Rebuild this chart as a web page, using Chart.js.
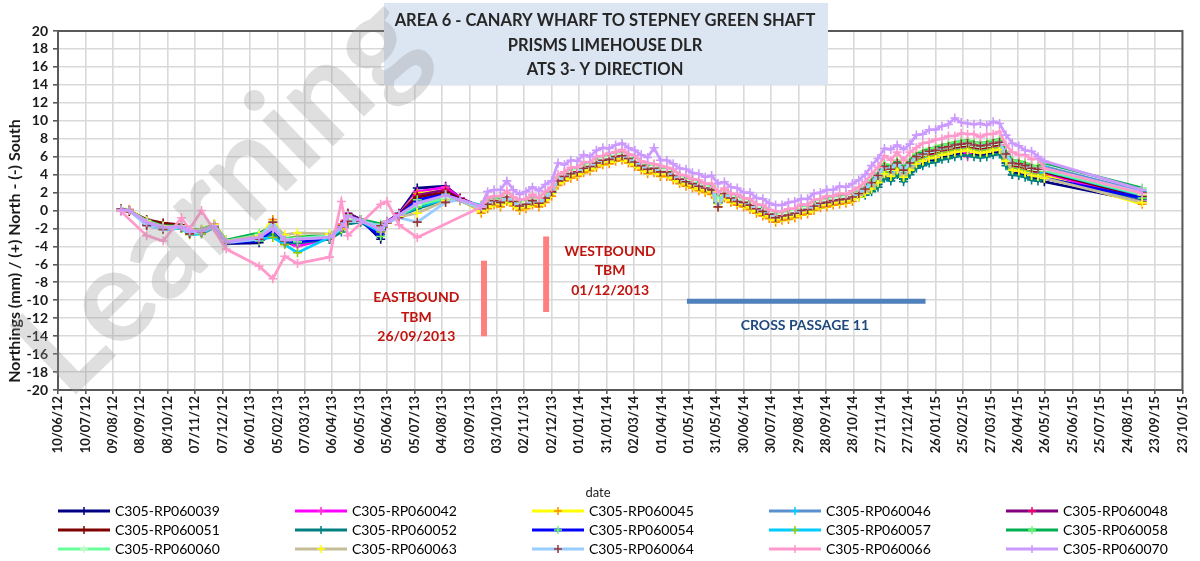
<!DOCTYPE html>
<html>
<head>
<meta charset="utf-8">
<script src="https://cdn.jsdelivr.net/npm/chart.js@4.4.1/dist/chart.umd.min.js"></script>
<style>
html, body { margin: 0; padding: 0; background: #fff; }
#wrap { width: 1200px; height: 561px; }
</style>
</head>
<body>
<div id="wrap"><canvas id="chart" width="1200" height="561"></canvas></div>
<script>
// tick labels on the date axis (every 30 days)
var tickLabels = ['10/06/12','10/07/12','09/08/12','08/09/12','08/10/12','07/11/12','07/12/12','06/01/13','05/02/13','07/03/13',
  '06/04/13','06/05/13','05/06/13','05/07/13','04/08/13','03/09/13','03/10/13','02/11/13','02/12/13','01/01/14',
  '31/01/14','02/03/14','01/04/14','01/05/14','31/05/14','30/06/14','30/07/14','29/08/14','28/09/14','28/10/14',
  '27/11/14','27/12/14','26/01/15','25/02/15','27/03/15','26/04/15','26/05/15','25/06/15','25/07/15','24/08/15',
  '23/09/15','23/10/15'];

// reading dates: early manual readings, weekly readings, last reading
var earlyDates = ['18/08/12','27/08/12','15/09/12','03/10/12','23/10/12','01/11/12','14/11/12','28/11/12','11/12/12','16/01/13',
  '31/01/13','13/02/13','27/02/13','03/04/13','16/04/13','23/04/13','07/05/13','29/05/13','05/06/13','18/06/13',
  '08/07/13','08/08/13','24/08/13'];
var weeklyDates = ['16/09/13','23/09/13','30/09/13','07/10/13','14/10/13','21/10/13','28/10/13','04/11/13','11/11/13','18/11/13',
  '25/11/13','02/12/13','09/12/13','16/12/13','23/12/13','30/12/13','06/01/14','13/01/14','20/01/14','27/01/14',
  '03/02/14','10/02/14','17/02/14','24/02/14','03/03/14','10/03/14','17/03/14','24/03/14','31/03/14','07/04/14',
  '14/04/14','21/04/14','28/04/14','05/05/14','12/05/14','19/05/14','26/05/14','02/06/14','09/06/14','16/06/14',
  '23/06/14','30/06/14','07/07/14','14/07/14','21/07/14','28/07/14','04/08/14','11/08/14','18/08/14','25/08/14',
  '01/09/14','08/09/14','15/09/14','22/09/14','29/09/14','06/10/14','13/10/14','20/10/14','27/10/14','03/11/14',
  '10/11/14','17/11/14','24/11/14','01/12/14','08/12/14','15/12/14','22/12/14','29/12/14','05/01/15','12/01/15',
  '19/01/15','26/01/15','02/02/15','09/02/15','16/02/15','23/02/15','02/03/15','09/03/15','16/03/15','23/03/15',
  '30/03/15','06/04/15','13/04/15','20/04/15','27/04/15','04/05/15','11/05/15','18/05/15','25/05/15'];
var lastDates = ['09/09/15'];

var seriesNames = ['C305-RP060039','C305-RP060042','C305-RP060045','C305-RP060046','C305-RP060048',
  'C305-RP060051','C305-RP060052','C305-RP060054','C305-RP060057','C305-RP060058',
  'C305-RP060060','C305-RP060063','C305-RP060064','C305-RP060066','C305-RP060070'];

// northings (mm), one value per reading date
var rp060039 = [0.1,0.0,-1.5,-2.0,-1.9,-2.5,-2.4,-1.8,-3.7,-3.6,-2.5,-3.7,-3.6,-3.2,-1.8,-0.3,-1.0,-3.2,-1.3,-0.3,2.5,2.7,1.4,
  0.3,0.8,1.2,1.0,1.5,1.1,0.6,0.8,1.2,1.0,1.5,2.0,3.4,3.9,4.2,4.4,4.8,5.0,5.4,5.7,
  5.8,6.1,6.2,5.8,5.5,5.1,4.7,4.8,4.4,4.4,4.0,3.6,3.3,3.1,2.8,2.6,2.4,1.0,2.0,1.5,
  1.2,1.0,0.7,0.3,0.0,-0.3,-0.7,-0.5,-0.4,-0.2,0.1,0.2,0.6,0.9,1.0,1.2,1.3,1.4,1.6,
  1.7,2.0,2.4,2.9,3.9,3.6,4.3,3.5,4.3,5.0,5.3,5.6,5.7,6.0,6.1,6.3,6.4,6.5,6.3,6.2,6.3,6.5,6.6,
  5.3,4.0,4.2,4.0,3.7,3.6,3.2,
  1.0];
var rp060042 = [0.1,0.1,-1.2,-1.8,-1.8,-2.3,-2.2,-1.7,-3.5,-3.3,-2.2,-3.5,-4.0,-3.1,-1.5,-0.3,-1.1,-2.5,-1.2,-0.4,2.1,2.6,1.4,
  0.4,0.9,1.3,1.1,1.7,1.2,0.7,0.9,1.3,1.1,1.6,2.3,3.5,4.0,4.3,4.5,4.9,5.1,5.5,5.8,
  5.9,6.2,6.3,6.0,5.6,5.2,4.8,4.9,4.5,4.5,4.1,3.7,3.4,3.2,2.9,2.7,2.5,1.1,2.1,1.6,
  1.3,1.1,0.8,0.4,0.1,-0.2,-0.6,-0.4,-0.3,-0.1,0.2,0.3,0.7,1.0,1.1,1.3,1.4,1.5,1.7,
  2.0,2.3,2.8,3.5,4.5,4.2,4.9,4.1,4.9,5.6,5.9,6.2,6.3,6.6,6.7,6.9,7.0,6.0,6.9,6.8,6.9,7.1,7.2,
  5.9,4.9,4.8,4.6,4.3,4.2,4.1,
  1.2];
var rp060045 = [0.2,0.1,-1.1,-1.7,-1.6,-2.2,-2.1,-1.5,-3.3,-3.0,-1.0,-3.2,-2.9,-2.9,-1.6,-0.6,-1.2,-2.0,-1.4,-0.5,1.9,2.2,1.3,
  -0.3,0.2,0.6,0.4,1.0,0.5,0.0,0.2,0.6,0.4,0.9,1.6,2.8,3.3,3.6,3.8,4.2,4.4,4.8,5.1,
  5.2,5.5,5.6,5.3,4.9,4.5,4.1,4.2,3.8,3.8,3.4,3.0,2.7,2.5,2.2,2.0,1.8,0.4,1.4,0.9,
  0.6,0.4,0.1,-0.3,-0.6,-0.9,-1.3,-1.1,-1.0,-0.8,-0.5,-0.4,0.0,0.3,0.4,0.6,0.7,0.8,1.0,
  1.7,2.3,3.2,4.1,5.1,4.8,5.5,4.7,5.5,6.2,6.5,6.8,6.9,7.2,7.3,7.5,7.6,7.7,7.5,7.4,7.5,7.7,7.8,
  6.5,5.5,5.4,5.2,4.9,4.8,3.9,
  0.7];
var rp060046 = [0.1,0.0,-1.3,-2.0,-1.9,-2.4,-2.4,-1.8,-3.6,-3.2,-2.2,-3.5,-3.4,-3.0,-1.9,-0.6,-1.1,-2.3,-1.4,-0.6,1.0,1.6,1.2,
  0.3,0.8,1.2,1.1,1.6,1.1,0.6,0.8,1.2,1.0,1.5,2.2,3.4,3.9,4.2,4.5,4.8,5.0,5.4,5.7,
  5.8,6.1,6.2,5.9,5.5,5.1,4.7,4.8,4.4,4.4,4.1,3.6,3.3,3.1,2.8,2.6,2.4,1.0,2.0,1.5,
  1.2,1.0,0.7,0.3,0.0,-0.3,-0.7,-0.4,-0.4,-0.2,0.1,0.2,0.6,0.9,1.0,1.2,1.3,1.4,1.6,
  1.9,2.4,3.0,3.8,4.8,4.5,5.2,4.4,5.2,5.9,6.2,6.5,6.6,6.9,7.0,7.2,7.3,7.4,7.2,7.1,7.2,7.4,7.5,
  6.2,5.2,5.1,4.9,4.6,4.5,4.9,
  2.1];
var rp060048 = [0.1,0.0,-1.2,-1.8,-1.8,-2.3,-2.3,-1.7,-3.5,-3.1,-2.0,-3.4,-3.3,-3.0,-1.7,-0.4,-1.0,-2.3,-1.3,-0.4,1.7,2.3,1.3,
  0.4,0.9,1.3,1.1,1.7,1.2,0.7,0.9,1.4,1.1,1.6,2.3,3.5,4.0,4.3,4.5,4.9,5.1,5.5,5.8,
  5.9,6.2,6.4,6.0,5.6,5.2,4.8,4.9,4.5,4.5,4.1,3.7,3.4,3.2,2.9,2.7,2.5,1.1,2.1,1.6,
  1.3,1.1,0.8,0.4,0.1,-0.2,-0.6,-0.4,-0.3,-0.1,0.2,0.3,0.7,1.0,1.1,1.3,1.4,1.5,1.7,
  2.0,2.4,2.9,3.6,4.6,4.3,5.0,4.2,5.0,5.7,6.0,6.3,6.4,6.7,6.8,7.0,7.1,7.2,7.0,6.9,7.0,7.2,7.3,
  6.0,5.0,4.9,4.7,4.4,4.3,4.3,
  1.6];
var rp060051 = [0.0,-0.1,-1.0,-1.4,-1.6,-2.2,-2.2,-1.6,-3.5,-3.0,-1.8,-3.3,-3.1,-2.9,-1.7,-0.4,-1.1,-2.2,-1.3,-0.5,1.5,2.0,1.3,
  0.2,0.7,1.1,0.9,1.5,1.0,0.5,0.7,1.1,0.9,1.4,2.1,3.3,3.8,4.1,4.3,4.7,4.9,5.3,5.6,
  5.7,6.0,6.1,5.8,5.4,5.0,4.6,4.7,4.3,4.3,3.9,3.5,3.2,3.0,2.7,2.5,2.3,0.9,1.9,1.4,
  1.1,0.9,0.6,0.2,-0.1,-0.4,-0.8,-0.6,-0.5,-0.3,0.0,0.1,0.5,0.8,0.9,1.1,1.2,1.3,1.5,
  1.9,2.3,2.9,3.7,4.7,4.4,5.1,4.3,5.1,5.8,6.1,6.4,6.5,6.8,6.9,7.1,7.2,7.3,7.1,7.0,7.1,7.3,7.4,
  6.1,5.1,5.0,4.8,4.5,4.4,4.3,
  1.5];
var rp060052 = [0.1,0.0,-1.4,-2.1,-2.0,-2.5,-2.6,-1.9,-3.5,-3.3,-2.6,-3.6,-3.6,-3.2,-2.4,-1.5,-1.3,-2.7,-1.3,-0.6,0.2,1.2,1.1,
  0.1,0.6,1.0,0.8,1.4,0.9,0.4,0.6,1.0,0.8,1.3,2.0,3.2,3.7,4.0,4.2,4.6,4.8,5.2,5.5,
  5.6,5.9,6.0,5.7,5.3,4.9,4.5,4.6,4.2,4.2,3.8,3.4,3.1,2.9,2.6,2.4,2.2,0.8,1.8,1.3,
  1.0,0.8,0.5,0.1,-0.2,-0.5,-0.9,-0.7,-0.6,-0.4,-0.1,0.0,0.4,0.7,0.8,1.0,1.1,1.2,1.4,
  1.5,1.7,2.1,2.6,3.6,3.3,4.0,3.2,4.0,4.7,5.0,5.3,5.4,5.7,5.8,6.0,6.1,6.2,6.0,5.9,6.0,6.2,6.3,
  5.0,4.0,3.9,3.7,3.4,3.3,3.6,
  1.3];
var rp060054 = [0.1,0.0,-1.3,-1.9,-1.8,-2.3,-2.3,-1.7,-3.6,-3.4,-2.1,-3.4,-3.5,-3.1,-1.8,-0.5,-1.1,-2.9,-1.3,-0.5,1.2,1.8,1.2,
  0.3,0.8,1.2,1.0,1.5,1.1,0.6,0.8,1.2,1.0,1.5,2.2,3.4,3.9,4.2,4.4,4.8,5.0,5.4,5.7,
  5.9,6.1,6.2,5.9,5.5,5.1,4.7,4.8,4.4,4.4,4.0,3.6,3.3,3.1,2.8,2.6,2.4,1.0,2.0,1.5,
  1.2,1.0,0.7,0.3,0.0,-0.3,-0.8,-0.5,-0.4,-0.2,0.1,0.2,0.6,0.9,1.0,1.2,1.3,1.4,1.6,
  1.8,2.1,2.6,3.2,4.2,3.9,4.6,3.8,4.6,5.3,5.6,5.9,6.0,6.3,6.4,6.6,6.7,6.8,6.6,6.5,6.6,6.8,6.9,
  5.6,4.6,4.5,4.3,4.0,3.9,3.6,
  1.4];
var rp060057 = [0.2,0.0,-1.4,-2.1,-2.0,-2.7,-2.6,-1.8,-3.5,-3.2,-3.0,-3.8,-4.7,-3.0,-2.1,-0.9,-1.2,-2.4,-1.4,-0.6,0.4,1.3,1.1,
  0.6,1.1,1.5,1.3,1.9,1.4,0.9,1.1,1.5,1.3,1.8,2.5,3.7,4.2,4.5,4.7,5.1,5.3,5.7,6.0,
  6.1,6.4,6.5,6.2,5.8,5.4,5.0,5.1,4.7,4.7,4.3,3.9,3.6,3.4,3.1,2.9,2.7,1.3,2.3,1.8,
  1.5,1.3,1.0,0.6,0.3,0.0,-0.4,-0.2,-0.1,0.1,0.4,0.5,0.9,1.2,1.3,1.5,1.6,1.7,1.9,
  2.1,2.3,2.7,3.3,4.3,4.0,4.7,3.9,4.7,5.4,5.7,6.0,6.1,6.4,6.5,6.7,6.8,6.9,6.7,6.6,6.7,6.9,7.0,
  5.7,4.7,4.6,4.4,4.1,4.0,4.4,
  1.7];
var rp060058 = [0.1,0.0,-1.1,-1.7,-1.7,-2.2,-2.1,-1.6,-3.3,-2.5,-1.8,-3.1,-3.0,-2.7,-1.9,-1.0,-1.0,-1.5,-1.3,-0.5,0.5,1.5,1.2,
  0.5,1.0,1.4,1.2,1.8,1.3,0.8,1.0,1.4,1.2,1.7,2.4,3.6,4.1,4.4,4.6,5.0,5.2,5.6,5.9,
  6.0,6.3,6.4,6.1,5.7,5.3,4.9,5.0,4.6,4.6,4.2,3.8,3.5,3.3,3.0,2.8,2.6,1.2,2.2,1.7,
  1.4,1.2,0.9,0.5,0.2,-0.1,-0.5,-0.3,-0.2,0.0,0.3,0.4,0.8,1.1,1.2,1.4,1.5,1.6,1.8,
  2.2,2.7,3.4,4.2,5.2,4.9,5.6,4.8,5.6,6.3,6.6,6.9,7.0,7.3,7.4,7.6,7.7,7.8,7.6,7.5,7.6,7.8,7.9,
  6.6,5.6,5.5,5.3,5.0,4.9,5.3,
  2.5];
var rp060060 = [0.1,0.0,-1.2,-1.8,-1.8,-2.3,-2.2,-1.7,-3.4,-2.7,-2.0,-3.2,-3.1,-2.8,-1.9,-0.9,-1.1,-1.8,-1.3,-0.6,0.6,1.4,1.2,
  0.4,0.9,1.2,1.1,1.7,1.2,0.7,0.9,1.3,1.1,1.6,2.3,3.5,4.0,4.3,4.5,4.9,5.1,5.5,5.8,
  5.9,6.2,6.3,6.0,5.6,5.3,4.8,4.9,4.5,4.5,4.1,3.7,3.4,3.2,2.9,2.7,2.5,1.1,2.1,1.6,
  1.3,1.1,0.8,0.4,0.1,-0.2,-0.6,-0.4,-0.3,-0.1,0.3,0.3,0.7,1.0,1.1,1.3,1.4,1.5,1.7,
  2.0,2.4,3.0,3.8,4.8,4.5,5.2,4.4,5.2,5.9,6.2,6.5,6.6,6.9,7.0,7.2,7.3,7.4,7.2,7.1,7.2,7.4,7.5,
  6.2,5.2,5.1,4.9,4.6,4.5,4.5,
  1.8];
var rp060063 = [0.1,0.0,-1.2,-1.8,-1.8,-2.2,-2.2,-1.6,-3.4,-2.8,-1.6,-2.7,-2.5,-2.6,-2.0,-1.2,-1.2,-2.0,-1.4,-0.7,-0.3,1.1,1.1,
  0.0,0.5,0.9,0.7,1.3,0.8,0.3,0.5,0.9,0.7,1.2,1.9,3.1,3.6,3.9,4.1,4.5,4.7,5.1,5.4,
  5.5,5.8,5.9,5.6,5.2,4.8,4.4,4.5,4.1,4.1,3.7,3.3,3.0,2.8,2.5,2.3,2.1,0.7,1.7,1.2,
  0.9,0.7,0.4,0.0,-0.3,-0.6,-1.0,-0.8,-0.7,-0.5,-0.2,-0.1,0.3,0.6,0.7,0.9,1.0,1.1,1.3,
  1.5,1.9,2.4,3.1,4.1,3.8,4.5,3.7,4.5,5.2,5.5,5.8,5.9,6.2,6.3,6.5,6.6,6.7,6.5,6.4,6.5,6.7,6.8,
  5.5,4.5,4.4,4.2,3.9,3.8,3.6,
  0.9];
var rp060064 = [0.2,0.0,-1.7,-2.1,-1.9,-2.6,-2.4,-1.8,-3.6,-3.2,-1.3,-3.4,-3.2,-3.0,-1.9,-1.2,-1.2,-1.7,-1.4,-0.8,-1.3,0.9,1.2,
  0.2,0.7,1.1,0.9,1.5,1.0,0.5,0.7,1.1,0.8,1.4,2.1,3.3,3.8,4.1,4.3,4.7,4.9,5.3,5.6,
  5.7,6.0,6.1,5.8,5.4,5.0,4.6,4.7,4.3,4.3,3.9,3.5,3.2,3.0,2.7,2.5,2.3,0.4,1.9,1.4,
  1.0,0.9,0.6,0.2,-0.1,-0.4,-0.8,-0.6,-0.5,-0.3,0.0,0.1,0.5,0.8,0.9,1.1,1.2,1.3,1.5,
  1.9,2.4,3.1,3.9,4.9,4.6,5.3,4.5,5.3,6.0,6.3,6.6,6.7,7.0,7.1,7.3,7.4,7.5,7.3,7.2,7.3,7.5,7.6,
  6.3,5.3,5.2,5.0,4.7,4.6,4.7,
  2.0];
var rp060066 = [-0.1,null,-2.8,-3.4,-0.8,-2.1,0.0,null,-4.3,-6.2,-7.6,-5.1,-5.9,-5.2,1.0,-2.8,null,0.7,1.0,-1.6,-3.0,null,null,
  0.4,1.4,1.6,1.6,2.2,1.5,1.2,1.3,1.8,1.4,2.1,2.6,4.0,4.3,4.8,4.8,5.4,5.4,6.0,6.1,
  6.4,6.5,6.8,6.3,6.1,5.5,5.3,5.2,5.0,4.8,4.6,4.0,3.9,3.5,3.4,3.0,3.0,2.0,2.5,1.9,
  1.8,1.4,1.3,0.7,0.6,0.1,-0.1,-0.1,0.2,0.2,0.7,0.6,1.2,1.3,1.6,1.6,1.9,1.8,2.2,
  2.6,3.2,4.1,4.8,6.1,5.6,6.5,5.6,6.5,7.0,7.5,7.6,7.9,8.0,8.3,8.3,8.6,8.5,8.5,8.2,8.5,8.5,8.8,
  7.3,6.5,6.2,6.2,5.7,5.8,4.7,
  1.9];
var rp060070 = [0.1,0.0,-1.3,-1.9,-1.8,-2.3,-2.3,-1.7,-3.5,-3.0,-2.0,-3.3,-3.2,-3.0,-1.8,-0.6,-1.1,-2.2,-1.3,-0.5,0.8,1.7,1.2,
  0.5,2.1,2.3,2.3,3.3,2.3,1.8,2.1,2.6,2.2,2.9,3.3,5.3,5.1,5.6,5.5,6.2,6.0,6.7,7.0,
  6.9,7.3,7.5,7.0,6.7,6.2,5.9,7.0,5.6,5.6,5.2,4.7,4.6,4.2,4.1,3.7,3.9,3.0,3.2,2.6,
  2.5,2.0,2.0,1.4,1.3,0.8,0.6,0.6,0.9,1.0,1.3,1.3,1.9,2.0,2.3,2.3,2.7,2.6,3.0,
  3.4,4.0,5.0,5.8,6.9,6.8,7.3,6.8,7.4,8.4,8.5,9.0,9.0,9.4,9.6,10.3,9.8,9.7,9.6,9.7,9.5,9.9,9.7,
  8.4,7.5,7.2,6.7,6.6,6.0,5.5,
  2.3];

var seriesValues = [rp060039, rp060042, rp060045, rp060046, rp060048, rp060051, rp060052, rp060054,
  rp060057, rp060058, rp060060, rp060063, rp060064, rp060066, rp060070];

// tunnel boring machine passes and cross passage works
var tbmDates = ['19/09/13', '26/11/13'];
var tbmTop = [-5.6, -2.9];
var tbmBottom = [-14.0, -11.3];
var passageDates = ['29/04/14', '15/01/15'];
var passageLevel = [-10.1, -10.1];

var lineColors = ['#000080','#ff00ff','#ffff00','#5a8fd0','#800080','#800000','#008080','#0000ff',
  '#00ccff','#00b050','#66ff99','#c4bd97','#99ccff','#ff99cc','#cc99ff'];
var markerColors = ['#000080','#ff33cc','#ff8c00','#00ccff','#ff0066','#800000','#008080','#66ff66',
  '#99cc00','#66ff66','#ccffcc','#ffff00','#993333','#ff99cc','#cc99ff'];

var START = Date.UTC(2012, 5, 10);
function dayNumber(s) {
  var p = s.split('/').map(Number);
  return Math.round((Date.UTC(2000 + p[2], p[1] - 1, p[0]) - START) / 86400000);
}

var readingDays = earlyDates.concat(weeklyDates, lastDates).map(dayNumber);
var tickDays = tickLabels.map(dayNumber);

var datasets = seriesNames.map(function (name, i) {
  return {
    label: name,
    data: seriesValues[i].map(function (v, j) { return {x: readingDays[j], y: v}; }),
    borderColor: lineColors[i],
    backgroundColor: lineColors[i],
    borderWidth: 2.75,
    pointStyle: 'cross',
    pointRadius: 4.5,
    pointBorderWidth: 1.6,
    pointBorderColor: markerColors[i],
    pointBackgroundColor: markerColors[i],
    tension: 0,
    spanGaps: true,
    order: seriesNames.length - 1 - i   // later series on top, like the original
  };
});

tbmDates.forEach(function (d, i) {
  datasets.push({
    label: 'tbm' + i,
    data: [{x: dayNumber(d), y: tbmTop[i]}, {x: dayNumber(d), y: tbmBottom[i]}],
    borderColor: '#ff7f7f', borderWidth: 6, pointRadius: 0, order: 100
  });
});
datasets.push({
  label: 'passage',
  data: passageDates.map(function (d, i) { return {x: dayNumber(d), y: passageLevel[i]}; }),
  borderColor: '#4f81bd', borderWidth: 5, pointRadius: 0, order: 100
});

// text notes, anchored in axis units (day number, mm)
var notes = [
  {lines: ['EASTBOUND', 'TBM', '26/09/2013'], day: 392, value: -9.7, color: '#c0140f'},
  {lines: ['WESTBOUND', 'TBM', '01/12/2013'], day: 604, value: -4.55, color: '#c0140f'},
  {lines: ['CROSS PASSAGE 11'], day: 817, value: -12.8, color: '#1f497d'}
];
var titleLines = ['AREA 6 - CANARY WHARF TO STEPNEY GREEN SHAFT', 'PRISMS LIMEHOUSE DLR', 'ATS 3- Y DIRECTION'];

var decor = {
  id: 'decor',
  beforeDatasetsDraw: function (chart) {
    var ctx = chart.ctx, a = chart.chartArea;
    ctx.save();
    ctx.strokeStyle = '#595959';
    ctx.lineWidth = 2;
    ctx.strokeRect(a.left, a.top, a.right - a.left, a.bottom - a.top);
    ctx.restore();
  },
  afterDraw: function (chart) {
    var ctx = chart.ctx, xs = chart.scales.x, ys = chart.scales.y;
    ctx.save();

    // notes
    ctx.textAlign = 'center';
    ctx.textBaseline = 'middle';
    ctx.font = 'bold 14px Lato';
    notes.forEach(function (n) {
      var px = xs.getPixelForValue(n.day), py = ys.getPixelForValue(n.value);
      ctx.fillStyle = n.color;
      n.lines.forEach(function (t, k) { ctx.fillText(t, px, py + k * 19.5); });
    });

    // title box
    ctx.fillStyle = '#dce6f2';
    ctx.fillRect(384, 3, 444, 82);
    ctx.fillStyle = '#262626';
    ctx.font = 'bold 16.5px Lato';
    titleLines.forEach(function (t, k) { ctx.fillText(t, 605, 21 + k * 24.5); });

    // axis titles
    ctx.fillStyle = '#1a1a1a';
    ctx.font = '13px Lato';
    ctx.fillText('date', 598, 493);
    ctx.save();
    ctx.translate(15, 251);
    ctx.rotate(-Math.PI / 2);
    ctx.font = 'bold 16px Lato';
    ctx.fillText('Northings (mm) / (+) North - (-) South', 0, 0);
    ctx.restore();

    // legend, 5 columns
    ctx.textAlign = 'left';
    ctx.font = '14px Lato';
    seriesNames.forEach(function (name, i) {
      var x0 = 58 + (i % 5) * 237, y0 = 511 + Math.floor(i / 5) * 19;
      ctx.strokeStyle = lineColors[i];
      ctx.lineWidth = 3;
      ctx.beginPath(); ctx.moveTo(x0, y0); ctx.lineTo(x0 + 52, y0); ctx.stroke();
      ctx.strokeStyle = markerColors[i];
      ctx.lineWidth = 1.5;
      ctx.beginPath();
      ctx.moveTo(x0 + 26, y0 - 4); ctx.lineTo(x0 + 26, y0 + 4);
      ctx.moveTo(x0 + 22, y0); ctx.lineTo(x0 + 30, y0);
      ctx.stroke();
      ctx.fillStyle = '#000';
      ctx.fillText(name, x0 + 57, y0);
    });

    // watermark
    ctx.translate(220, 196);
    ctx.rotate(-44 * Math.PI / 180);
    ctx.font = 'bold 132px Lato';
    ctx.textAlign = 'center';
    ctx.fillStyle = 'rgba(150,150,150,0.3)';
    ctx.fillText('Learning', 0, 0);
    ctx.restore();
  }
};

new Chart(document.getElementById('chart'), {
  type: 'line',
  data: {datasets: datasets},
  options: {
    responsive: false,
    animation: false,
    events: [],
    layout: {padding: {top: 31, right: 14, bottom: 61, left: 0}},
    plugins: {legend: {display: false}, tooltip: {enabled: false}},
    scales: {
      x: {
        type: 'linear',
        min: tickDays[0],
        max: tickDays[tickDays.length - 1],
        afterBuildTicks: function (scale) {
          scale.ticks = tickDays.map(function (d) { return {value: d}; });
        },
        afterFit: function (scale) { scale.height = 110; },
        ticks: {
          autoSkip: false,
          maxRotation: 90,
          minRotation: 90,
          padding: 2,
          color: '#1a1a1a',
          font: {family: 'Lato', size: 13, weight: 'bold'},
          callback: function (v) { return tickLabels[tickDays.indexOf(v)]; }
        },
        grid: {color: '#d9d9d9', lineWidth: 1.6, tickColor: '#595959', tickLength: 4},
        border: {display: false}
      },
      y: {
        min: -20,
        max: 20,
        afterFit: function (scale) { scale.width = 58; },
        ticks: {
          stepSize: 2,
          autoSkip: false,
          padding: 5,
          color: '#1a1a1a',
          font: {family: 'Lato', size: 14, weight: 'bold'}
        },
        grid: {color: '#d9d9d9', lineWidth: 1.6, tickColor: '#595959', tickLength: 5},
        border: {display: false}
      }
    }
  },
  plugins: [decor]
});
</script>
</body>
</html>
